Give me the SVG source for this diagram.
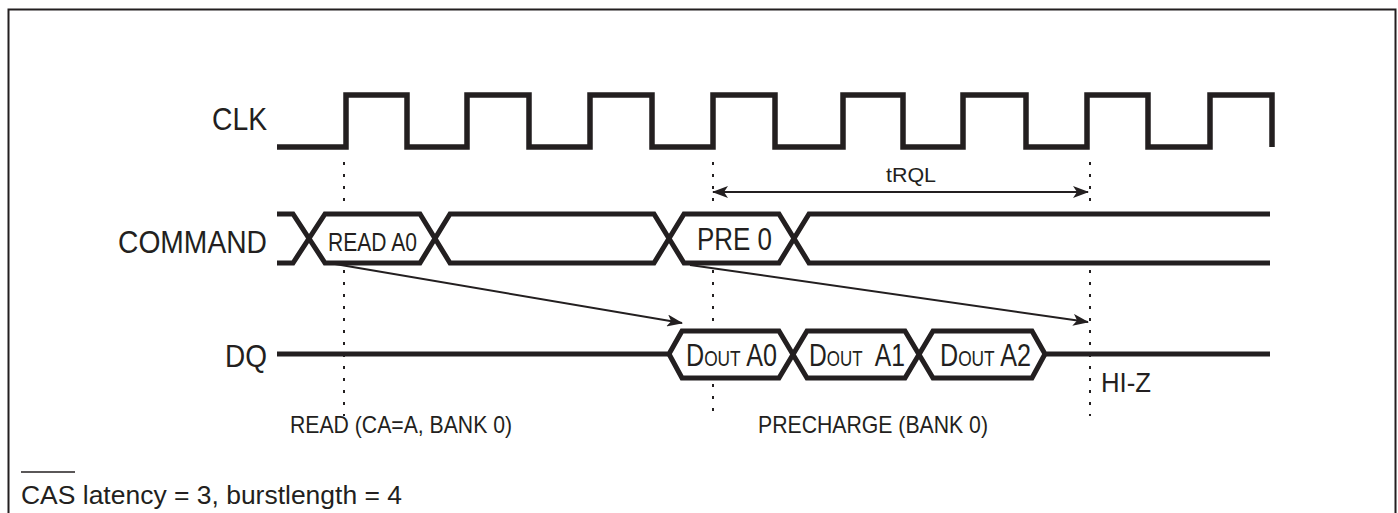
<svg xmlns="http://www.w3.org/2000/svg" width="1398" height="513" viewBox="0 0 1398 513">
<style>
.sig{fill:none;stroke:#231f20;stroke-width:5.5;stroke-linejoin:miter;stroke-linecap:butt}
.bus{fill:none;stroke:#231f20;stroke-width:5;stroke-linejoin:miter;stroke-linecap:butt}
.dot{fill:none;stroke:#231f20;stroke-width:2;stroke-dasharray:3 9}
.arr{fill:none;stroke:#231f20;stroke-width:2}
.t{font-family:"Liberation Sans",Arial,sans-serif;fill:#231f20}
.lbl{font-size:32px}
.sm{font-size:24px}
.dout{font-size:32px;font-variant:small-caps}
</style>
<defs>
<marker id="ah" viewBox="0 0 16 12" refX="15" refY="6" markerWidth="16" markerHeight="12" markerUnits="userSpaceOnUse" orient="auto-start-reverse">
<path d="M0,0 L16,6 L0,12 L4,6 z" fill="#231f20"/>
</marker>
</defs>
<rect x="8.5" y="9.5" width="1387" height="530" fill="#fff" stroke="#231f20" stroke-width="2"/>

<g id="clk">
<text class="t lbl" x="212" y="130" textLength="55" lengthAdjust="spacingAndGlyphs">CLK</text>
<path class="sig" d="M277,147 H346 V95 H407 V147 H467 V95 H529 V147 H590 V95 H652 V147 H713 V95 H775 V147 H843 V95 H903 V147 H963 V95 H1026 V147 H1087 V95 H1148 V147 H1210 V95 H1272 V147"/>
</g>

<g id="command">
<text class="t lbl" x="118" y="253" textLength="149" lengthAdjust="spacingAndGlyphs">COMMAND</text>
<path class="bus" d="M277,214 H293 L325,263 H420 L450,214 H654 L684,263 H779 L809,214 H1270"/>
<path class="bus" d="M277,263 H293 L325,214 H420 L450,263 H654 L684,214 H779 L809,263 H1270"/>
<text class="t" x="328" y="251" font-size="25" textLength="89" lengthAdjust="spacingAndGlyphs">READ A0</text>
<text class="t" x="697" y="250" font-size="31" textLength="75" lengthAdjust="spacingAndGlyphs">PRE 0</text>
</g>

<g id="dq">
<text class="t lbl" x="225" y="367" textLength="42" lengthAdjust="spacingAndGlyphs">DQ</text>
<path class="bus" d="M277,354 H669 L682,331 H779 L807,378 H905 L933,331 H1032 L1045,354 H1270"/>
<path class="bus" d="M669,354 L682,378 H779 L807,331 H905 L933,378 H1032 L1045,354"/>
<text class="t dout" x="686" y="366" textLength="91" lengthAdjust="spacingAndGlyphs">Dout A0</text>
<text class="t dout" x="809" y="366" textLength="96" lengthAdjust="spacingAndGlyphs" xml:space="preserve">Dout  A1</text>
<text class="t dout" x="940" y="366" textLength="91" lengthAdjust="spacingAndGlyphs">Dout A2</text>
<text class="t" x="1101" y="392" font-size="28" textLength="50" lengthAdjust="spacingAndGlyphs">HI-Z</text>
</g>

<g id="connectors">
<path class="dot" d="M344,162 V206 M344,270 V416"/>
<path class="dot" d="M713,162 V206 M713,270 V327 M713,384 V416"/>
<path class="dot" d="M1090,162 V206 M1090,270 V416"/>
<line class="arr" x1="335" y1="264" x2="682" y2="323" marker-end="url(#ah)"/>
<line class="arr" x1="690" y1="265" x2="1088" y2="322" marker-end="url(#ah)"/>
<line class="arr" x1="713" y1="192" x2="1088" y2="192" marker-start="url(#ah)" marker-end="url(#ah)"/>
</g>

<g id="labels">
<text class="t" x="886" y="182" font-size="21" textLength="50" lengthAdjust="spacingAndGlyphs">tRQL</text>
<text class="t sm" x="290" y="433" textLength="222" lengthAdjust="spacingAndGlyphs">READ (CA=A, BANK 0)</text>
<text class="t sm" x="758" y="433" textLength="230" lengthAdjust="spacingAndGlyphs">PRECHARGE (BANK 0)</text>
<text class="t" x="21" y="504" font-size="26" textLength="381" lengthAdjust="spacingAndGlyphs">CAS latency = 3, burstlength = 4</text>
<line x1="21" y1="472" x2="75" y2="472" stroke="#231f20" stroke-width="1.5"/>
</g>
</svg>
